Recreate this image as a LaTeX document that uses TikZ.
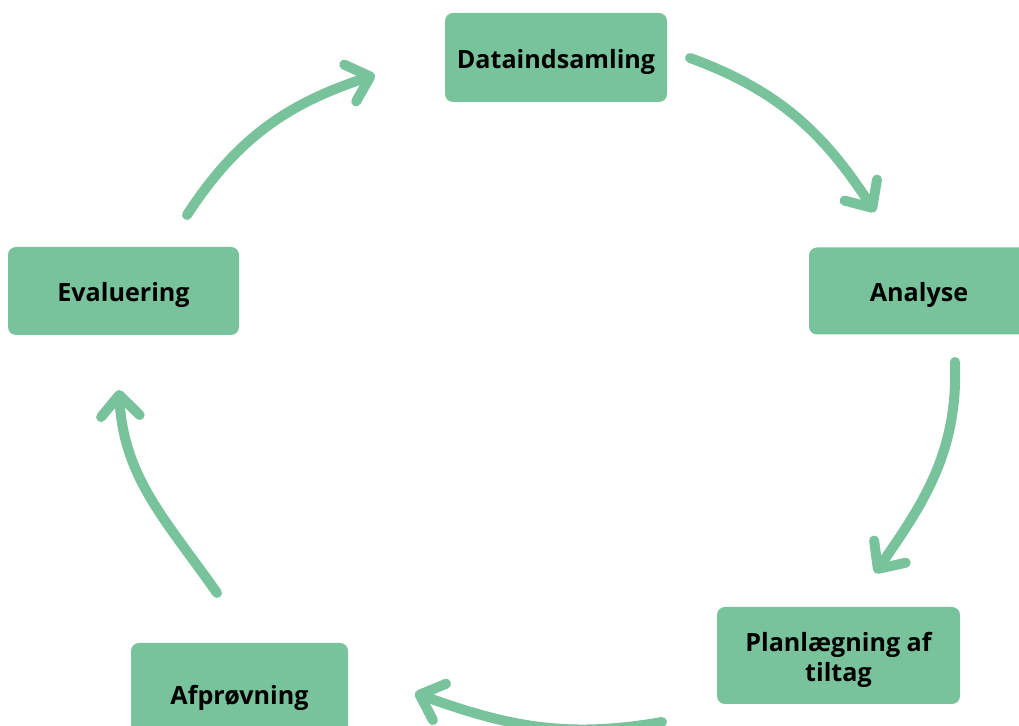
\documentclass[tikz,border=0pt]{standalone}
\usepackage{fontspec}
\setmainfont{Open Sans}
\usepackage{xcolor}
\usetikzlibrary{positioning, arrows.meta}
\definecolor{stagegreen}{RGB}{120,195,156}

\begin{document}
\begin{tikzpicture}[x=0.02cm, y=0.02cm,
    stage/.style={fill=stagegreen, rounded corners=0.16cm, inner sep=0pt,
        align=center, text height=12.5pt, text depth=0pt,
        font=\bfseries\fontsize{14.3}{17}\selectfont},
    turn/.style={stagegreen, line width=0.2cm, line cap=round,
        -{Straight Barb[length=12pt, width=22pt, round]}}]
        \useasboundingbox (0,0) rectangle (1019,726);
        \clip (0,0) rectangle (1019,726);

        % stages of the cycle
        \node[stage, minimum width=222*0.02cm, minimum height=89*0.02cm] (dat) at (556,668.5) {Dataindsamling};
        \node[stage, minimum width=220*0.02cm, minimum height=87*0.02cm] (ana) at (919,435) {Analyse};
        \node[stage, minimum width=243*0.02cm, minimum height=97*0.02cm, text height=30pt] (pla) at (838.5,70.5) {Planlægning af\\tiltag};
        \node[stage, minimum width=217*0.02cm, minimum height=102*0.02cm] (afp) at (239.5,32) {Afprøvning};
        \node[stage, minimum width=231*0.02cm, minimum height=88*0.02cm] (eva) at (123.5,435) {Evaluering};

        % arrow ends
        \coordinate (datout) at (690,668);
        \coordinate (anain)  at (875,514);
        \coordinate (anaout) at (955,364);
        \coordinate (plain)  at (875,153);
        \coordinate (plaout) at (662,4);
        \coordinate (afpin)  at (415,33);
        \coordinate (afpout) at (217,133);
        \coordinate (evain)  at (119,336);
        \coordinate (evaout) at (187,511);
        \coordinate (datin)  at (375,651);

        % curved arrows
        \foreach \from/\to/\o/\i in {datout/anain/-20/123, anaout/plain/-88/55,
            plaout/afpin/190/-20, afpout/evain/125/-87, evaout/datin/57/198}
        \draw[turn] (\from) to[out=\o, in=\i] (\to);
    \end{tikzpicture}
\end{document}
